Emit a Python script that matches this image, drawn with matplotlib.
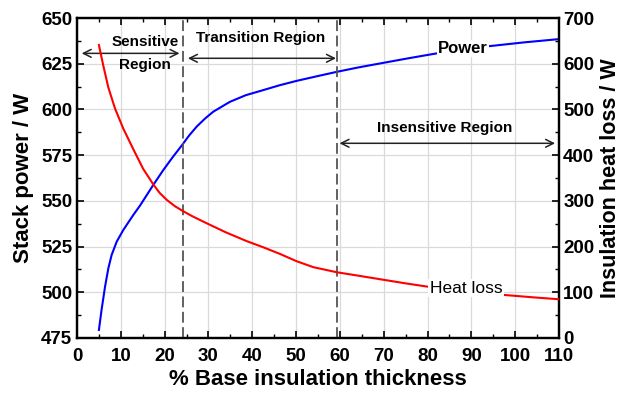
import matplotlib
matplotlib.use("Agg")
import matplotlib.pyplot as plt
from matplotlib.ticker import MultipleLocator

plt.rcParams['font.family'] = ['Liberation Sans', 'DejaVu Sans']
plt.rcParams['font.weight'] = 'bold'

# Data
power_x = [5.0, 5.6, 6.4, 7.15, 7.9, 9.06, 10.57, 12.85, 14.4, 17.4, 19.7, 21.8, 23.9, 25.6, 27.3, 29.2, 31.1,
           34.9, 38.5, 42.5, 46.3, 50.2, 54.8, 59.3, 64.2, 69.2, 75.6, 82.1, 88.2, 94.3, 102.0, 110.0]
power_y = [479.4, 490.3, 503.1, 513.1, 520.4, 527.7, 534.1, 542.3, 547.5, 558.7, 566.9, 573.8, 580.3, 585.8, 590.6, 595.0, 598.8,
           604.2, 607.8, 610.6, 613.3, 615.7, 618.2, 620.6, 623.0, 625.2, 628.0, 630.7, 632.8, 634.7, 636.7, 638.5]

heat_x = [5.0, 6.0, 7.15, 8.68, 10.57, 12.85, 15.1, 16.67, 17.4, 18.9, 20.5, 22.4, 24.3, 26.2, 28.1, 29.6,
          34.0, 38.7, 42.5, 46.3, 50.1, 53.9, 59.3, 64.6, 69.2, 75.0, 80.2, 90.0, 97.7, 104.0, 110.0]
heat_y = [641.0, 596.0, 548.0, 502.0, 458.0, 413.0, 370.0, 347.0, 336.0, 317.0, 302.0, 288.0, 277.0, 267.0, 258.0, 251.0,
          231.0, 212.0, 198.5, 184.0, 168.0, 155.0, 143.8, 135.7, 128.5, 119.5, 112.0, 101.5, 94.0, 89.0, 84.7]

region_bounds = [24.1, 59.3]

fig = plt.figure(figsize=(6.22, 3.93), dpi=100)
ax = fig.add_axes([0.1238, 0.14, 0.775, 0.814])
ax2 = ax.twinx()

ax.set_xlim(0, 110)
ax.set_ylim(475, 650)
ax2.set_ylim(0, 700)

ax.grid(True, color='#dadada', linewidth=0.9)
ax.set_axisbelow(True)

ax.plot(power_x, power_y, color='blue', lw=1.5, zorder=3, solid_joinstyle='round')
ax2.plot(heat_x, heat_y, color='red', lw=1.5, zorder=3, solid_joinstyle='round')

for xb in region_bounds:
    ax.axvline(xb, color='#555555', lw=1.3, ls=(0, (6, 2.5)), zorder=4)

ax.text(88.1, 633.3, 'Power', ha='center', va='center', fontsize=12, fontweight='bold',
        bbox=dict(facecolor='white', edgecolor='none', pad=1.0), zorder=5)
ax2.text(88.8, 109, 'Heat loss', ha='center', va='center', fontsize=12.5, fontweight='normal',
         bbox=dict(facecolor='white', edgecolor='none', pad=1.0), zorder=5)

def arrow(a, x0, x1, y):
    a.annotate('', xy=(x1, y), xytext=(x0, y),
               arrowprops=dict(arrowstyle='<->', color='#222222', lw=1.1,
                               shrinkA=0, shrinkB=0, mutation_scale=14), zorder=5)

arrow(ax, 1.07, 23.4, 630.7)
arrow(ax, 25.3, 59.1, 628.0)
arrow(ax, 59.9, 109.1, 581.5)

ax.text(15.5, 637.0, 'Sensitive', ha='center', va='center', fontsize=11)
ax.text(15.5, 624.3, 'Region', ha='center', va='center', fontsize=11)
ax.text(42.0, 638.9, 'Transition Region', ha='center', va='center', fontsize=11)
ax.text(83.8, 590.0, 'Insensitive Region', ha='center', va='center', fontsize=11)

ax.xaxis.set_major_locator(MultipleLocator(10))
ax.xaxis.set_minor_locator(MultipleLocator(5))
ax.yaxis.set_major_locator(MultipleLocator(25))
ax.yaxis.set_minor_locator(MultipleLocator(12.5))
ax2.yaxis.set_major_locator(MultipleLocator(100))
ax2.yaxis.set_minor_locator(MultipleLocator(50))

ax.tick_params(axis='both', which='both', direction='in', labelsize=13.5, top=True, right=False)
ax.tick_params(which='major', length=5, width=1.2)
ax.tick_params(which='minor', length=3, width=1.0)
ax.tick_params(axis='x', which='major', pad=7)
ax.tick_params(axis='y', which='major', pad=3.5)
ax2.tick_params(axis='y', which='both', direction='in', labelsize=13.5)
ax2.tick_params(which='major', length=5, width=1.2, pad=3)
ax2.tick_params(which='minor', length=3, width=1.0)
for lab in ax.get_xticklabels() + ax.get_yticklabels() + ax2.get_yticklabels():
    lab.set_fontweight('bold')

for a in (ax, ax2):
    for s in a.spines.values():
        s.set_linewidth(1.6)

ax.set_xlabel('% Base insulation thickness', fontsize=16, fontweight='bold', labelpad=3)
ax.set_ylabel('Stack power / W', fontsize=16, fontweight='bold', labelpad=5)
ax2.set_ylabel('Insulation heat loss / W', fontsize=15.5, fontweight='bold', labelpad=4)

fig.savefig('out.png', dpi=100)
